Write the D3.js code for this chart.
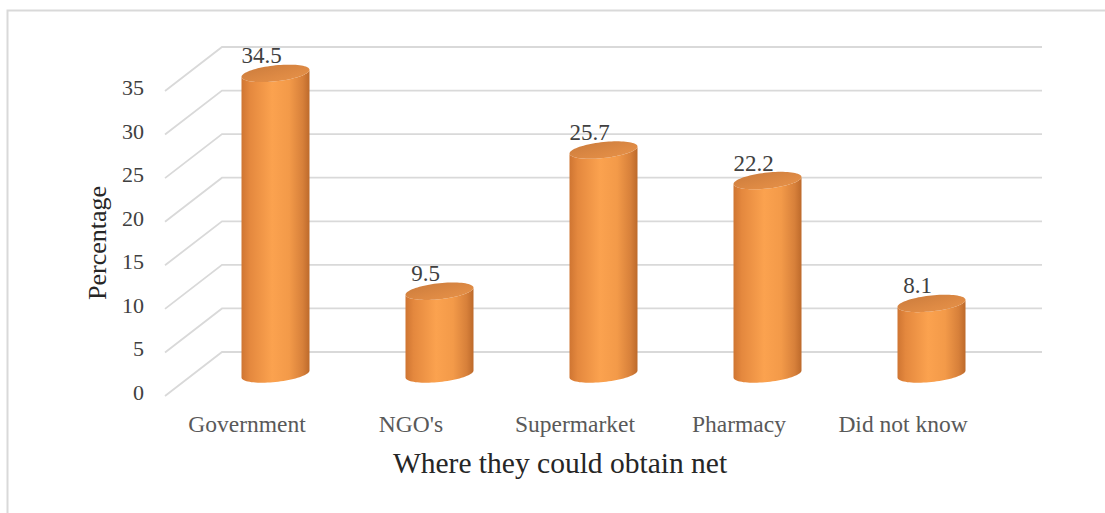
<!DOCTYPE html>
<html>
<head>
<meta charset="utf-8">
<script src="https://cdn.jsdelivr.net/npm/d3@7"></script>
<style>
  html, body { margin: 0; padding: 0; background: #ffffff; }
  svg { display: block; }
</style>
</head>
<body>
<div id="chart"></div>
<script>
// Where respondents said they could obtain a net (percentage of answers)
const categories = ["Government", "NGO's", "Supermarket", "Pharmacy", "Did not know"];
const values = [34.5, 9.5, 25.7, 22.2, 8.1];
const yTicks = [0, 5, 10, 15, 20, 25, 30, 35];
const yTitle = "Percentage";
const xTitle = "Where they could obtain net";

const W = 1105, H = 513;
const svg = d3.select("#chart").append("svg").attr("width", W).attr("height", H);

// chart frame
svg.append("rect")
  .attr("x", 7.5).attr("y", 10.5).attr("width", 1120).attr("height", 530)
  .attr("fill", "none").attr("stroke", "#d9d9d9").attr("stroke-width", 2);

// 3D box: front plane scales plus a depth offset towards the back wall
const depthX = 57, depthY = -44;
const x = d3.scaleBand().domain(categories).range([165, 985]);
const y = d3.scaleLinear().domain([0, 35]).range([396, 91]);

// gridlines: floor-to-wall diagonal then along the back wall
const grid = svg.append("g");
yTicks.forEach(v => {
  const yf = y(v);
  grid.append("path")
    .attr("d", `M${x.range()[0]},${yf} L${x.range()[0] + depthX},${yf + depthY} L${x.range()[1] + depthX},${yf + depthY}`)
    .attr("fill", "none").attr("stroke", "#d9d9d9").attr("stroke-width", 1.8);
});

// tick labels
svg.append("g").selectAll("text").data(yTicks).join("text")
  .attr("x", 144).attr("y", d => y(d) - 1)
  .attr("text-anchor", "end").attr("dominant-baseline", "middle")
  .attr("font-family", "'Liberation Serif', 'Times New Roman', serif")
  .attr("font-size", 22).attr("fill", "#404040")
  .text(d => d);

// gradients for the cylinders
const defs = svg.append("defs");
const bodyGrad = defs.append("linearGradient").attr("id", "cylBody")
  .attr("x1", "0%").attr("x2", "100%").attr("y1", "0%").attr("y2", "0%");
[["0%", "#cf7532"], ["12%", "#e4883e"], ["45%", "#fba24f"], ["70%", "#f39a49"], ["90%", "#d7803a"], ["100%", "#bd6a2b"]]
  .forEach(([o, c]) => bodyGrad.append("stop").attr("offset", o).attr("stop-color", c));
const topGrad = defs.append("linearGradient").attr("id", "cylTop")
  .attr("x1", "0%").attr("x2", "100%").attr("y1", "0%").attr("y2", "100%");
[["0%", "#c97a3c"], ["60%", "#de8a44"], ["100%", "#e8944b"]]
  .forEach(([o, c]) => topGrad.append("stop").attr("offset", o).attr("stop-color", c));

// cylinders sit at mid depth
const rx = 34, ry = 8, shear = -3.5;
const ellipsePt = (cx, cy, t) => [cx + rx * Math.cos(t), cy + ry * Math.sin(t) + shear * Math.cos(t)];
const line = d3.line();
const N = 40;

const bars = svg.append("g");
categories.forEach((c, i) => {
  const v = values[i];
  const cx = x(c) + x.bandwidth() / 2 + depthX / 2;
  const yBase = y(0) + depthY / 2;
  const yTop = y(v) + depthY / 2;

  // body: left side down, lower half of bottom ellipse, right side up, front half of top ellipse back
  const pts = [];
  pts.push(ellipsePt(cx, yTop, Math.PI));
  for (let k = 0; k <= N; k++) pts.push(ellipsePt(cx, yBase, Math.PI - Math.PI * k / N));
  for (let k = 0; k <= N; k++) pts.push(ellipsePt(cx, yTop, Math.PI * k / N));
  bars.append("path").attr("d", line(pts) + "Z").attr("fill", "url(#cylBody)");

  // top cap
  const cap = [];
  for (let k = 0; k <= 2 * N; k++) cap.push(ellipsePt(cx, yTop, Math.PI * k / N));
  bars.append("path").attr("d", line(cap) + "Z").attr("fill", "url(#cylTop)");

  // value label
  bars.append("text")
    .attr("x", cx - 14).attr("y", yTop - ry - 2)
    .attr("text-anchor", "middle")
    .attr("font-family", "'Liberation Serif', 'Times New Roman', serif")
    .attr("font-size", 23).attr("fill", "#404040")
    .text(v.toFixed(1));
});

// category labels on the front plane
svg.append("g").selectAll("text").data(categories).join("text")
  .attr("x", d => x(d) + x.bandwidth() / 2).attr("y", 432)
  .attr("text-anchor", "middle")
  .attr("font-family", "'Liberation Serif', 'Times New Roman', serif")
  .attr("font-size", 23.5).attr("fill", "#595959")
  .text(d => d);

// axis titles
svg.append("text")
  .attr("transform", "translate(106,243) rotate(-90)")
  .attr("text-anchor", "middle")
  .attr("font-family", "'Liberation Serif', 'Times New Roman', serif")
  .attr("font-size", 26).attr("fill", "#262626")
  .text(yTitle);

svg.append("text")
  .attr("x", 560).attr("y", 473)
  .attr("text-anchor", "middle")
  .attr("font-family", "'Liberation Serif', 'Times New Roman', serif")
  .attr("font-size", 29.5).attr("fill", "#262626")
  .text(xTitle);
</script>
</body>
</html>
